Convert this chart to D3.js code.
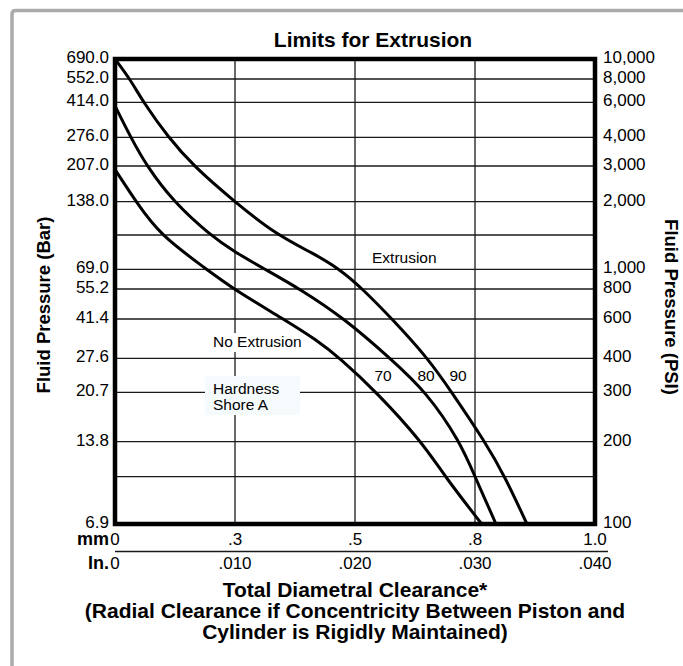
<!DOCTYPE html>
<html>
<head>
<meta charset="utf-8">
<script src="https://cdn.jsdelivr.net/npm/d3@7"></script>
<style>
  body { margin: 0; background: #fff; }
  svg { display: block; font-family: "Liberation Sans", Arial, Helvetica, sans-serif; }
</style>
</head>
<body>
<svg id="chart"></svg>
<script>
// Chart size
const width = 683;
const height = 666;
const plot = { left: 115, top: 59, right: 595, bottom: 524 };

// Pressure gridlines (PSI) and their Bar labels
const psiGrid = [10000, 8000, 6000, 4000, 3000, 2000, 1500, 1000, 800, 600, 400, 300, 200, 150, 100];
const psiLabels = ["10,000", "8,000", "6,000", "4,000", "3,000", "2,000", "", "1,000", "800", "600", "400", "300", "200", "", "100"];
const barLabels = ["690.0", "552.0", "414.0", "276.0", "207.0", "138.0", "", "69.0", "55.2", "41.4", "27.6", "20.7", "13.8", "", "6.9"];

// Clearance ticks
const inchTicks = [0, 0.010, 0.020, 0.030, 0.040];
const inchLabels = ["0", ".010", ".020", ".030", ".040"];
const mmLabels = ["0", ".3", ".5", ".8", "1.0"];

// Extrusion limit curves per hardness (clearance in inches, pressure in PSI)
const clearance70 = [0, 0.00175, 0.00375, 0.00764, 0.00986, 0.01403, 0.01681, 0.01875, 0.02181, 0.02556, 0.0275, 0.03056];
const psi70 = [2900, 2000, 1500, 1000, 800, 600, 493, 400, 300, 200, 150, 100];
const clearance80 = [0, 0.00131, 0.00264, 0.00486, 0.00792, 0.0100, 0.0125, 0.01542, 0.01917, 0.02292, 0.02598, 0.02875, 0.0300, 0.03175];
const psi80 = [5800, 4000, 3000, 2000, 1500, 1250, 1000, 800, 600, 400, 300, 200, 150, 100];
const clearance90 = [0, 0.00125, 0.00236, 0.00444, 0.00653, 0.00996, 0.01348, 0.01653, 0.01875, 0.02064, 0.0231, 0.02608, 0.02806, 0.03083, 0.0325, 0.03433];
const psi90 = [10000, 8000, 6000, 4000, 3000, 2000, 1500, 1233, 1000, 800, 600, 400, 300, 200, 150, 100];
const hardness = ["70", "80", "90"];

const svg = d3.select("#chart")
    .attr("width", width)
    .attr("height", height);

// x: linear in inches
const x = d3.scaleLinear()
    .domain([0, 0.040])
    .range([plot.left, plot.right]);

// y: the printed pressure scale is hand-ruled, so map each gridline to its spot
const gridSteps = [0, 20, 43.3, 78.3, 107, 142.7, 176, 210.3, 230, 260, 299.3, 333.3, 382.7, 417.7, 465];
const y = d3.scaleLinear()
    .domain(psiGrid)
    .range(gridSteps.map(d => plot.top + d));

// page frame
svg.append("path")
    .attr("d", `M12,${height + 5} V14 Q12,10.5 16,10.5 H${width + 5}`)
    .attr("fill", "none")
    .attr("stroke", "#ababab")
    .attr("stroke-width", 3.5);

// gridlines
svg.append("g")
    .selectAll("line")
    .data(psiGrid)
    .join("line")
    .attr("x1", plot.left)
    .attr("x2", plot.right)
    .attr("y1", d => y(d))
    .attr("y2", d => y(d))
    .attr("stroke", "#1a1a1a")
    .attr("stroke-width", 1.3);

svg.append("g")
    .selectAll("line")
    .data(inchTicks)
    .join("line")
    .attr("x1", d => x(d))
    .attr("x2", d => x(d))
    .attr("y1", plot.top)
    .attr("y2", plot.bottom)
    .attr("stroke", "#1a1a1a")
    .attr("stroke-width", 1.3);

// label backgrounds that break the grid
svg.append("rect")
    .attr("x", 209).attr("y", 333)
    .attr("width", 98).attr("height", 19)
    .attr("fill", "#fff");
svg.append("rect")
    .attr("x", 205).attr("y", 376)
    .attr("width", 95).attr("height", 39)
    .attr("fill", "#f5fafc");

// curves (basis spline smooths the hand-read points)
const line = d3.line()
    .x(d => x(d[0]))
    .y(d => y(d[1]))
    .curve(d3.curveBasis);

const curves = [
    d3.zip(clearance70, psi70),
    d3.zip(clearance80, psi80),
    d3.zip(clearance90, psi90)
];

svg.append("g")
    .selectAll("path")
    .data(curves)
    .join("path")
    .attr("d", line)
    .attr("fill", "none")
    .attr("stroke", "#000")
    .attr("stroke-width", 3);

// thick plot frame
svg.append("rect")
    .attr("x", plot.left)
    .attr("y", plot.top)
    .attr("width", plot.right - plot.left)
    .attr("height", plot.bottom - plot.top)
    .attr("fill", "none")
    .attr("stroke", "#000")
    .attr("stroke-width", 4.5);

// left (Bar) and right (PSI) tick labels
svg.append("g")
    .selectAll("text")
    .data(d3.zip(psiGrid, barLabels))
    .join("text")
    .attr("x", plot.left - 6)
    .attr("y", d => y(d[0]) + 4)
    .attr("text-anchor", "end")
    .attr("font-size", 17)
    .text(d => d[1]);

svg.append("g")
    .selectAll("text")
    .data(d3.zip(psiGrid, psiLabels))
    .join("text")
    .attr("x", plot.right + 8)
    .attr("y", d => y(d[0]) + 4)
    .attr("font-size", 17)
    .text(d => d[1]);

// bottom scales: mm and inches
svg.append("g")
    .selectAll("text")
    .data(d3.zip(inchTicks, mmLabels))
    .join("text")
    .attr("x", d => x(d[0]))
    .attr("y", 545)
    .attr("text-anchor", "middle")
    .attr("font-size", 17)
    .text(d => d[1]);

svg.append("g")
    .selectAll("text")
    .data(d3.zip(inchTicks, inchLabels))
    .join("text")
    .attr("x", d => x(d[0]))
    .attr("y", 568.5)
    .attr("text-anchor", "middle")
    .attr("font-size", 17)
    .text(d => d[1]);

svg.append("line")
    .attr("x1", plot.left).attr("x2", plot.right + 13)
    .attr("y1", 551.5).attr("y2", 551.5)
    .attr("stroke", "#1a1a1a")
    .attr("stroke-width", 1.3);

svg.append("text")
    .attr("x", plot.left - 6).attr("y", 545)
    .attr("text-anchor", "end")
    .attr("font-size", 18).attr("font-weight", "bold")
    .text("mm");
svg.append("text")
    .attr("x", plot.left - 6).attr("y", 568.5)
    .attr("text-anchor", "end")
    .attr("font-size", 18).attr("font-weight", "bold")
    .text("In.");

// title
svg.append("text")
    .attr("x", 373).attr("y", 46.5)
    .attr("text-anchor", "middle")
    .attr("font-size", 21).attr("font-weight", "bold")
    .text("Limits for Extrusion");

// axis titles
svg.append("text")
    .attr("transform", "translate(50,305) rotate(-90)")
    .attr("text-anchor", "middle")
    .attr("font-size", 18.5).attr("font-weight", "bold")
    .text("Fluid Pressure (Bar)");
svg.append("text")
    .attr("transform", "translate(665,307) rotate(90)")
    .attr("text-anchor", "middle")
    .attr("font-size", 18.5).attr("font-weight", "bold")
    .text("Fluid Pressure (PSI)");

const xTitle = [
    "Total Diametral Clearance*",
    "(Radial Clearance if Concentricity Between Piston and",
    "Cylinder is Rigidly Maintained)"
];
svg.append("g")
    .selectAll("text")
    .data(xTitle)
    .join("text")
    .attr("x", 355)
    .attr("y", (d, i) => 597 + i * 21)
    .attr("text-anchor", "middle")
    .attr("font-size", 21).attr("font-weight", "bold")
    .text(d => d);

// annotations
const note = (tx, ty, s, anchor) => svg.append("text")
    .attr("x", tx).attr("y", ty)
    .attr("text-anchor", anchor || "start")
    .attr("font-size", 15.5)
    .text(s);

note(372, 263, "Extrusion");
note(213, 347, "No Extrusion");
note(213, 394, "Hardness");
note(213, 410, "Shore A");

svg.append("g")
    .selectAll("text")
    .data(d3.zip(hardness, [383, 426, 458]))
    .join("text")
    .attr("x", d => d[1])
    .attr("y", 381)
    .attr("text-anchor", "middle")
    .attr("font-size", 15.5)
    .text(d => d[0]);
</script>
</body>
</html>
